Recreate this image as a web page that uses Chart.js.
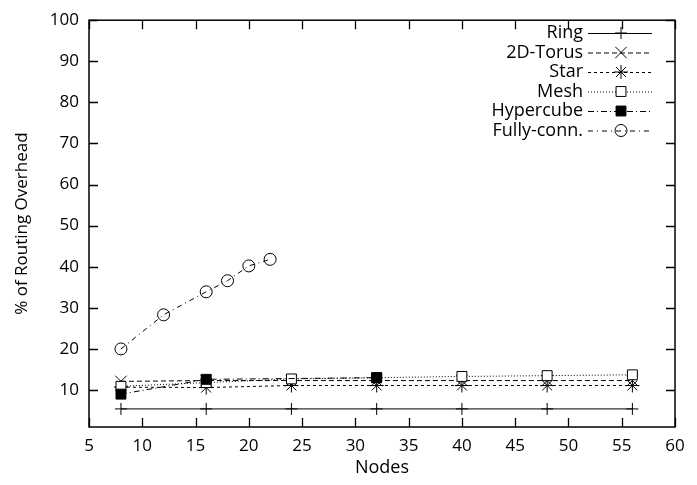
<!DOCTYPE html>
<html>
<head>
<meta charset="utf-8">
<script src="https://cdn.jsdelivr.net/npm/chart.js@4.4.0/dist/chart.umd.min.js"></script>
<style>
  body { margin: 0; background: #fff; }
  canvas { display: block; }
</style>
</head>
<body>
<canvas id="chart" width="697" height="485"></canvas>
<script>
// node counts and % of routing overhead
const nodes = [8, 16, 24, 32, 40, 48, 56];
const ringVals = [5.4, 5.4, 5.4, 5.4, 5.4, 5.4, 5.4];
const torusVals = [12.1, 12.3, 12.3, 12.3, 12.3, 12.3, 12.3];
const starVals = [10.7, 10.6, 11.1, 11.1, 11.1, 11.1, 11.1];
const meshVals = [10.9, 11.8, 12.7, 13.0, 13.3, 13.5, 13.7];
const hyperNodes = [8, 16, 32];
const hyperVals = [9.0, 12.6, 13.0];
const fullNodes = [8, 12, 16, 18, 20, 22];
const fullVals = [20.0, 28.3, 33.9, 36.6, 40.2, 41.8];

const xTicks = [5, 10, 15, 20, 25, 30, 35, 40, 45, 50, 55, 60];
const yTicks = [10, 20, 30, 40, 50, 60, 70, 80, 90, 100];

const FONT = '"Open Sans", "Noto Sans", sans-serif';

function pts(xs, ys) {
  return xs.map((x, i) => ({ x: x, y: ys[i] }));
}

const series = [
  { label: 'Ring', data: pts(nodes, ringVals), dash: [], style: 'cross', r: 6, fill: '#fff' },
  { label: '2D-Torus', data: pts(nodes, torusVals), dash: [5, 3], style: 'crossRot', r: 8, fill: '#fff' },
  { label: 'Star', data: pts(nodes, starVals), dash: [3, 3], style: 'star', r: 7, fill: '#fff' },
  { label: 'Mesh', data: pts(nodes, meshVals), dash: [1, 2], style: 'rect', r: 7, fill: '#fff' },
  { label: 'Hypercube', data: pts(hyperNodes, hyperVals), dash: [6, 3, 1, 3], style: 'rect', r: 7, fill: '#000' },
  { label: 'Fully-conn.', data: pts(fullNodes, fullVals), dash: [5, 4, 1, 4], style: 'circle', r: 6, fill: 'rgba(0,0,0,0)' }
];

// frame with inward ticks on all four sides, like gnuplot
const framePlugin = {
  id: 'frame',
  beforeDatasetsDraw(chart) {
    const { ctx, chartArea: a, scales } = chart;
    const len = 9;
    ctx.save();
    ctx.strokeStyle = '#000';
    ctx.lineWidth = 1.3;
    ctx.beginPath();
    xTicks.forEach(v => {
      const px = Math.round(scales.x.getPixelForValue(v)) + 0.5;
      ctx.moveTo(px, a.bottom); ctx.lineTo(px, a.bottom - len);
      ctx.moveTo(px, a.top); ctx.lineTo(px, a.top + len);
    });
    yTicks.forEach(v => {
      const py = Math.round(scales.y.getPixelForValue(v)) + 0.5;
      ctx.moveTo(a.left, py); ctx.lineTo(a.left + len, py);
      ctx.moveTo(a.right, py); ctx.lineTo(a.right - len, py);
    });
    ctx.stroke();
    ctx.lineWidth = 1.5;
    ctx.strokeRect(a.left, a.top, a.right - a.left, a.bottom - a.top);
    ctx.restore();
  }
};

// gnuplot style key: right aligned text, sample line with symbol on its right
const keyPlugin = {
  id: 'key',
  afterDraw(chart) {
    const ctx = chart.ctx;
    const textRight = 583, x0 = 588, x1 = 652, xm = 621;
    ctx.save();
    ctx.font = '18px ' + FONT;
    ctx.textAlign = 'right';
    ctx.textBaseline = 'middle';
    chart.data.datasets.forEach((ds, i) => {
      const y = 33 + i * 19.5;
      ctx.fillStyle = '#000';
      ctx.fillText(ds.label, textRight, y);
      ctx.strokeStyle = '#000';
      ctx.lineWidth = 1;
      ctx.setLineDash(ds.borderDash);
      ctx.beginPath();
      ctx.moveTo(x0, y + 0.5);
      ctx.lineTo(x1, y + 0.5);
      ctx.stroke();
      ctx.setLineDash([]);
      ctx.fillStyle = ds.pointBackgroundColor;
      Chart.helpers.drawPoint(ctx, {
        pointStyle: ds.pointStyle,
        radius: ds.pointRadius,
        rotation: 0,
        borderWidth: 1
      }, xm, y);
    });
    ctx.restore();
  }
};

new Chart(document.getElementById('chart'), {
  type: 'line',
  data: {
    datasets: series.map((s, i) => ({
      label: s.label,
      data: s.data,
      order: -i,
      borderColor: '#000',
      borderWidth: 1,
      borderDash: s.dash,
      pointStyle: s.style,
      pointRadius: s.r,
      pointBorderColor: '#000',
      pointBackgroundColor: s.fill,
      pointBorderWidth: 1,
      tension: 0
    }))
  },
  options: {
    responsive: false,
    animation: false,
    clip: false,
    layout: { padding: { top: 14, right: 22, bottom: 0, left: 0 } },
    plugins: {
      legend: { display: false },
      tooltip: { enabled: false }
    },
    scales: {
      x: {
        type: 'linear',
        min: 5,
        max: 60,
        afterBuildTicks: sc => { sc.ticks = xTicks.map(v => ({ value: v })); },
        afterFit: sc => { sc.height = 58; },
        grid: { display: false, drawTicks: false },
        border: { display: false },
        ticks: { color: '#000', padding: 9, font: { family: FONT, size: 17 } },
        title: { display: true, text: 'Nodes', color: '#000', padding: { top: 0, bottom: 6 }, font: { family: FONT, size: 18 } }
      },
      y: {
        type: 'linear',
        min: 1,
        max: 100,
        afterBuildTicks: sc => { sc.ticks = yTicks.map(v => ({ value: v })); },
        afterFit: sc => { sc.width = 89; },
        grid: { display: false, drawTicks: false },
        border: { display: false },
        ticks: { color: '#000', padding: 10, font: { family: FONT, size: 17 } },
        title: { display: true, text: '% of Routing Overhead', color: '#000', padding: { top: 12, bottom: 0 }, font: { family: FONT, size: 17 } }
      }
    }
  },
  plugins: [framePlugin, keyPlugin]
});
</script>
</body>
</html>
